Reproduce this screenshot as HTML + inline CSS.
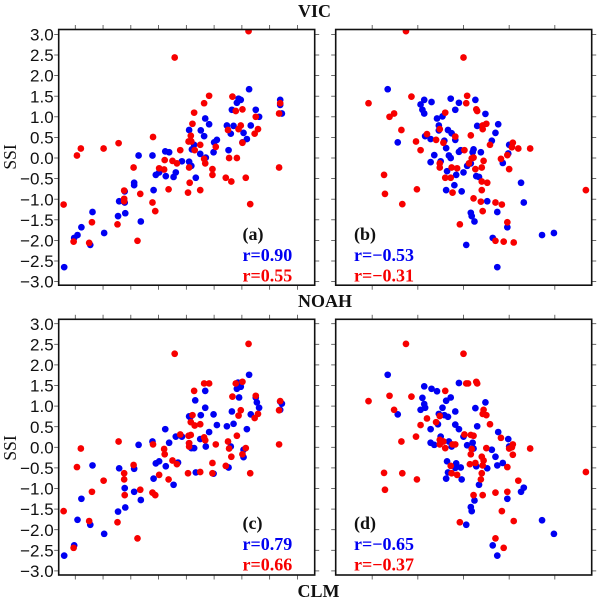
<!DOCTYPE html>
<html>
<head>
<meta charset="utf-8">
<title>SSI scatter panels</title>
<style>
html,body{margin:0;padding:0;background:#fff;}
svg{display:block;}
.tick-label{font-family:"Liberation Sans",sans-serif;font-size:17px;fill:#111;}
.serif{font-family:"Liberation Serif",serif;font-weight:bold;}
</style>
</head>
<body>
<svg id="chart" xmlns="http://www.w3.org/2000/svg" width="600" height="600" viewBox="0 0 600 600">
  <text class="serif" x="298" y="17" font-size="18" fill="#111">VIC</text>
  <text class="serif" x="298" y="307" font-size="18" fill="#111">NOAH</text>
  <text class="serif" x="297.5" y="597" font-size="18" fill="#111">CLM</text>
  <text font-family="Liberation Serif, serif" font-size="17.5" fill="#111" text-anchor="middle" transform="translate(16,157) rotate(-90)">SSI</text>
  <text font-family="Liberation Serif, serif" font-size="17.5" fill="#111" text-anchor="middle" transform="translate(16,448) rotate(-90)">SSI</text>
</svg>
<script>
const yTicks = [3.0, 2.5, 2.0, 1.5, 1.0, 0.5, 0.0, -0.5, -1.0, -1.5, -2.0, -2.5, -3.0];
const yTickLabels = ['3.0', '2.5', '2.0', '1.5', '1.0', '0.5', '0.0', '\u22120.5', '\u22121.0', '\u22121.5', '\u22122.0', '\u22122.5', '\u22123.0'];
const xTicksLeft = [-2, -1.5, -1, -0.5, 0, 0.5, 1, 1.5, 2];
const xTicksRight = [-1, -0.5, 0, 0.5, 1];

const aBlueX = [-2.20,-2.02,-1.96,-1.89,-1.73,-1.69,-1.48,-1.23,-1.21,-1.11,-1.11,-1.10,-0.94,-0.94,-0.86,-0.82,-0.61,-0.59,-0.55,-0.49,-0.38,-0.37,-0.31,-0.23,-0.19,-0.08,0.05,0.05,0.09,0.10,0.14,0.17,0.25,0.26,0.32,0.34,0.35,0.41,0.49,0.50,0.55,0.73,0.76,0.80,0.82,0.85,0.91,0.94,0.98,1.03,1.09,1.13,1.16,1.25,1.31,1.69,1.69,1.72,1.01];
const aBlueY = [-2.65,-1.94,-1.87,-1.68,-2.11,-1.31,-1.82,-1.41,-1.05,-0.81,-1.08,-1.34,-0.66,-0.60,0.06,-1.54,0.06,-0.78,-0.41,-0.35,0.16,-0.44,0.14,-0.46,-0.35,-0.08,-0.09,0.68,-0.19,0.21,0.32,-0.48,0.10,0.67,0.53,0.96,0.01,0.82,0.14,0.38,0.44,0.79,0.19,0.59,1.17,0.78,1.34,1.44,1.41,0.61,0.46,1.67,0.79,1.17,1.00,1.41,1.29,1.08,0.38];
const aRedX = [-2.21,-2.03,-1.97,-1.90,-1.75,-1.70,-1.49,-1.24,-1.22,-1.12,-1.12,-1.12,-0.95,-0.88,-0.83,-0.61,-0.60,-0.56,-0.49,-0.40,-0.39,-0.32,-0.25,-0.17,-0.11,0.03,0.06,0.05,0.04,0.08,0.09,0.11,0.14,0.15,0.25,0.25,0.32,0.32,0.34,0.41,0.47,0.47,0.53,0.71,0.75,0.77,0.81,0.83,0.89,0.91,0.94,0.98,1.01,1.01,1.07,1.15,1.12,-0.21,1.23,1.25,1.29,1.67,1.67,1.69];
const aRedY = [-1.13,-2.03,0.06,0.23,-2.06,-1.56,0.23,-1.61,0.36,-0.79,-0.99,-1.05,-0.23,-2.01,-0.87,-1.08,0.51,-1.29,-0.25,-0.28,-0.05,-0.76,-0.07,-0.13,0.19,-0.84,-0.60,-0.23,0.40,0.54,0.40,0.83,1.10,0.19,0.32,-0.78,1.33,-0.02,-0.13,1.51,-0.27,-0.41,0.27,-0.48,0.68,0.00,-0.57,1.49,1.14,0.00,0.70,0.79,1.18,0.37,-0.48,-1.12,3.08,2.44,0.59,1.00,0.70,1.08,-0.23,1.33];

const bBlueX = [-0.83,-0.72,-0.47,-0.45,-0.43,-0.43,-0.42,-0.36,-0.35,-0.36,-0.32,-0.29,-0.27,-0.27,-0.25,-0.23,-0.21,-0.19,-0.18,-0.19,-0.17,-0.16,-0.14,-0.14,-0.13,-0.10,-0.09,-0.09,-0.08,-0.05,-0.05,-0.03,-0.02,0.00,0.03,0.04,0.08,0.09,0.12,0.10,0.11,0.08,0.13,0.14,0.15,0.17,0.19,0.24,0.26,0.31,0.32,0.35,0.37,0.37,0.38,0.43,0.48,0.49,0.50,0.63,0.66,0.86,0.99];
const bBlueY = [1.67,0.38,1.30,1.17,1.41,1.08,0.53,0.46,1.36,-0.10,0.07,0.96,0.79,0.67,-0.08,1.01,0.42,0.24,-0.32,-0.78,0.68,0.06,1.44,0.00,0.60,-0.66,1.17,0.44,-0.41,0.15,1.34,0.19,-0.81,-0.35,-2.11,-0.19,-1.33,-1.41,-1.54,0.14,0.21,-0.13,1.41,-0.44,0.78,-0.46,0.14,1.07,-1.05,0.42,-1.94,0.61,-1.31,-2.65,0.82,-0.12,-1.68,0.11,0.32,-0.60,-1.08,-1.87,-1.82];
const bRedX = [-1.04,-0.87,-0.86,-0.81,-0.76,-0.68,-0.67,-0.63,-0.57,-0.52,-0.51,-0.47,-0.40,-0.30,-0.26,-0.26,-0.26,-0.22,-0.20,-0.20,-0.14,-0.13,-0.12,-0.09,-0.07,-0.04,0.00,0.01,0.03,0.04,0.08,0.06,0.09,0.11,0.11,0.13,0.14,0.15,0.20,0.19,0.20,0.21,0.21,0.21,0.22,0.20,0.25,0.26,0.29,0.35,0.35,0.41,0.42,0.44,0.48,0.48,0.50,0.53,0.54,0.55,0.60,0.73,1.34];
const bRedY = [1.33,-0.41,-0.87,1.00,1.08,0.68,-1.12,3.08,1.49,0.40,-0.76,0.19,0.58,0.44,0.70,-0.13,-0.23,0.37,1.10,-0.48,-0.48,-0.23,-0.84,0.52,-0.25,-1.61,2.44,0.19,1.33,1.51,0.55,-0.13,-0.01,0.01,-0.98,-0.27,1.18,1.14,-0.78,-1.06,-0.23,-1.29,0.70,0.79,-0.07,-0.57,0.83,-0.60,0.32,-1.08,-2.01,-0.02,-1.13,-2.03,0.07,-1.56,-0.27,0.26,0.37,-2.05,0.23,0.23,-0.78];

const cBlueX = [-2.20,-2.02,-1.96,-1.89,-1.73,-1.69,-1.48,-1.23,-1.21,-1.11,-1.10,-0.94,-0.94,-0.86,-0.82,-0.61,-0.59,-0.55,-0.49,-0.38,-0.37,-0.31,-0.23,-0.19,-0.15,-0.08,0.05,0.05,0.09,0.14,0.17,0.16,0.25,0.26,0.34,0.34,0.35,0.41,0.49,0.49,0.55,0.73,0.76,0.80,0.82,0.85,0.91,0.93,0.95,0.98,1.03,1.03,1.09,1.13,1.16,1.25,1.27,1.31,1.69,1.72,1.69,0.07];
const cBlueY = [-2.63,-2.38,-1.76,-1.25,-1.88,-0.44,-2.10,-1.56,-0.51,-0.99,-1.46,-1.08,-0.52,0.06,-1.28,0.14,-0.76,-0.39,-0.34,0.44,-0.46,0.11,-0.91,0.26,-0.37,0.26,0.75,0.10,-0.02,-0.02,-0.61,1.14,0.20,0.78,0.96,1.37,0.02,0.37,0.80,-0.64,0.54,0.51,-0.49,0.02,0.87,0.57,1.42,1.57,1.21,1.47,-0.06,-0.24,0.44,1.76,0.80,1.21,1.09,0.96,0.91,1.06,1.11,0.73];
const cRedX = [-2.21,-2.03,-1.97,-1.90,-1.75,-1.70,-1.49,-1.24,-1.22,-1.12,-1.12,-1.11,-0.95,-0.88,-0.83,-0.61,-0.56,-0.60,-0.49,-0.40,-0.39,-0.32,-0.25,-0.17,-0.11,0.03,0.04,0.08,0.05,0.05,0.08,0.11,0.14,0.15,0.25,0.25,0.32,0.32,0.34,0.41,0.47,0.47,0.53,0.71,0.75,0.77,0.81,0.83,0.89,0.91,0.94,0.98,1.01,1.01,1.07,1.15,1.12,-0.21,1.23,1.25,1.29,1.67,1.67,1.69];
const cRedY = [-1.55,-2.44,-0.48,-0.03,-1.79,-1.08,-0.81,-1.82,0.14,-0.63,-0.78,-1.16,-0.43,-2.21,-1.03,-1.10,-1.16,0.07,-0.67,-0.04,-0.17,-0.78,-0.32,-0.41,0.31,-0.63,0.28,0.30,0.10,0.02,0.61,0.78,1.37,0.53,0.56,-0.60,1.55,0.24,0.17,1.55,-0.38,-0.63,0.07,-0.45,0.14,-0.03,-0.23,1.23,1.55,0.28,0.77,0.90,1.59,-0.17,-0.02,-0.63,2.51,2.27,0.71,1.25,0.81,0.90,0.07,1.12];

const dBlueX = [-0.83,-0.72,-0.47,-0.45,-0.43,-0.43,-0.42,-0.35,-0.29,-0.36,-0.32,-0.36,-0.28,-0.27,-0.25,-0.23,-0.21,-0.19,-0.18,-0.19,-0.17,-0.17,-0.16,-0.14,-0.13,-0.09,-0.09,-0.08,-0.09,-0.05,-0.05,-0.03,-0.02,0.00,0.03,0.04,0.08,0.09,0.12,0.10,0.11,0.14,0.13,0.15,0.17,0.24,0.26,0.31,0.32,0.35,0.37,0.37,0.38,0.43,0.48,0.49,0.50,0.63,0.66,0.86,0.99];
const dBlueY = [1.76,0.80,0.91,1.20,1.48,1.05,0.96,1.42,1.36,0.11,0.06,0.44,0.56,0.81,0.26,0.96,0.78,1.13,-0.34,-0.76,0.74,-0.61,0.14,1.21,0.02,0.87,0.55,-0.39,-0.50,0.44,1.56,-0.49,-0.78,0.26,-1.88,0.05,-1.45,-1.55,-1.29,0.11,-0.03,-0.46,0.95,0.51,-0.91,1.09,-0.51,-0.06,-2.38,-0.23,-0.44,-2.63,0.37,-0.38,-1.25,0.20,0.02,-1.08,-0.98,-1.77,-2.10];
const dRedX = [-1.04,-0.87,-0.86,-0.81,-0.76,-0.68,-0.67,-0.63,-0.57,-0.52,-0.51,-0.47,-0.40,-0.30,-0.26,-0.26,-0.26,-0.22,-0.20,-0.20,-0.14,-0.13,-0.12,-0.09,-0.07,-0.04,0.00,0.01,0.03,0.05,0.08,0.11,0.07,0.09,0.08,0.11,0.13,0.14,0.15,0.20,0.19,0.20,0.21,0.21,0.21,0.22,0.22,0.25,0.25,0.29,0.35,0.35,0.41,0.42,0.44,0.48,0.48,0.50,0.53,0.54,0.54,0.55,0.60,0.73,1.34];
const dRedY = [1.12,-0.62,-1.03,1.25,0.91,0.14,-0.63,2.51,1.23,0.26,-0.78,0.54,0.70,0.61,0.76,0.18,0.07,0.14,1.37,-0.02,-0.45,-0.63,0.07,0.07,-0.67,-1.82,2.27,0.31,1.55,1.55,0.30,0.28,-0.41,-0.04,-0.17,-1.16,-0.38,1.59,1.55,-0.63,-0.78,-0.23,-0.44,-1.16,0.81,0.91,-0.32,0.78,-0.02,0.56,-1.10,-2.21,0.23,-1.55,-2.44,-0.48,-1.08,-0.03,0.00,0.07,-0.18,-1.79,-0.81,-0.03,-0.60];

const panelLetters = ['(a)', '(b)', '(c)', '(d)'];
const blueR = ['r=0.90', 'r=\u22120.53', 'r=0.79', 'r=\u22120.65'];
const redR = ['r=0.55', 'r=\u22120.31', 'r=0.66', 'r=\u22120.37'];

const BLUE = '#0000f2';
const RED = '#f70000';
const NS = 'http://www.w3.org/2000/svg';
const svg = document.getElementById('chart');

function makeEl(tag, attrs, parent) {
  const el = document.createElementNS(NS, tag);
  for (const k in attrs) el.setAttribute(k, attrs[k]);
  parent.appendChild(el);
  return el;
}

function xLeft(v) { return 186.35 + v * 55.53; }
function xRight(v) { return 463.5 + v * 91.33; }
function yTop(v) { return 158 - v * 41.2; }
function yBottom(v) { return 447.3 - v * 41.2; }

function drawPanel(idx, left, top, xFn, yFn, xTickVals, showLabels, blueX, blueY, redX, redY, letterX, letterBase) {
  const key = 'abcd'[idx];
  const W = 256, H = 255.7;
  const g = makeEl('g', {}, svg);
  
  

  const clip = makeEl('clipPath', { id: 'clip-' + key }, g);
  makeEl('rect', { x: left, y: top, width: W, height: H }, clip);

  const dots = makeEl('g', { 'clip-path': 'url(#clip-' + key + ')' }, g);
  blueX.forEach(function (v, i) {
    const c = makeEl('circle', { cx: xFn(v), cy: yFn(blueY[i]), r: 3.35, fill: BLUE }, dots);
    
    
  });
  redX.forEach(function (v, i) {
    const c = makeEl('circle', { cx: xFn(v), cy: yFn(redY[i]), r: 3.35, fill: RED }, dots);
    
    
  });

  xTickVals.forEach(function (v) {
    const x = xFn(v);
    const t1 = makeEl('line', { x1: x, x2: x, y1: top, y2: top - 4.5, stroke: '#444', 'stroke-width': 0.8 }, g);
    
    
    const t2 = makeEl('line', { x1: x, x2: x, y1: top + H, y2: top + H + 4.5, stroke: '#444', 'stroke-width': 0.8 }, g);
    
    
  });

  yTicks.forEach(function (v, i) {
    const y = yFn(v);
    const t1 = makeEl('line', { x1: left, x2: left - 4.5, y1: y, y2: y, stroke: '#444', 'stroke-width': 0.8 }, g);
    
    
    const t2 = makeEl('line', { x1: left + W, x2: left + W + 4.5, y1: y, y2: y, stroke: '#444', 'stroke-width': 0.8 }, g);
    
    
    if (showLabels) {
      const lab = makeEl('text', { x: left - 5, y: y + 6.1, 'text-anchor': 'end', class: 'tick-label' }, g);
      
      
      lab.textContent = yTickLabels[i];
    }
  });

  const frame = makeEl('rect', { x: left, y: top, width: W, height: H, fill: 'none', stroke: '#111', 'stroke-width': 1.6 }, g);
  
  

  const letter = makeEl('text', { x: letterX, y: letterBase, class: 'serif', 'font-size': 18, fill: '#111' }, g);
  
  
  letter.textContent = panelLetters[idx];

  const rb = makeEl('text', { x: letterX, y: letterBase + 21, class: 'serif', 'font-size': 18, fill: BLUE }, g);
  
  
  rb.textContent = blueR[idx];

  const rr = makeEl('text', { x: letterX, y: letterBase + 41.5, class: 'serif', 'font-size': 18, fill: RED }, g);
  
  
  rr.textContent = redR[idx];
}

drawPanel(0, 58.7, 29.5, xLeft, yTop, xTicksLeft, true, aBlueX, aBlueY, aRedX, aRedY, 242.5, 240);
drawPanel(1, 335.7, 29.5, xRight, yTop, xTicksRight, false, bBlueX, bBlueY, bRedX, bRedY, 354, 240);
drawPanel(2, 58.7, 319.3, xLeft, yBottom, xTicksLeft, true, cBlueX, cBlueY, cRedX, cRedY, 242.5, 529);
drawPanel(3, 335.7, 319.3, xRight, yBottom, xTicksRight, false, dBlueX, dBlueY, dRedX, dRedY, 354, 529);
</script>
</body>
</html>
